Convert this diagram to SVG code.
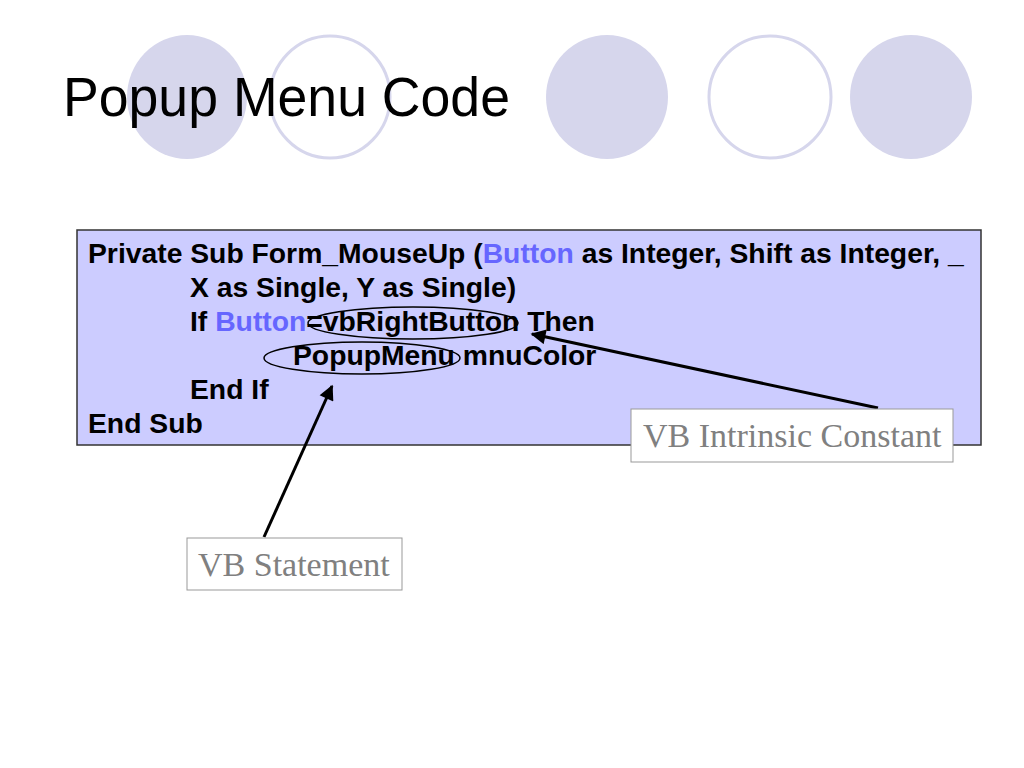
<svg xmlns="http://www.w3.org/2000/svg" width="1024" height="768" viewBox="0 0 1024 768">
<defs>
<style>
.dot{fill:#D6D6EC;stroke:none}
.ring{fill:#FFFFFF;stroke:#D6D6EC;stroke-width:3}
.title{font-family:"Liberation Sans",Arial,sans-serif;font-size:55px;fill:#000}
.code{font-family:"Liberation Sans",Arial,sans-serif;font-size:28.3px;font-weight:bold;fill:#000}
.kw{fill:#6666FF}
.lbl{font-family:"Liberation Serif","Times New Roman",serif;font-size:34px;fill:#808080}
.lblbox{fill:#FFFFFF;stroke:#999999;stroke-width:1}
.oval{fill:none;stroke:#000;stroke-width:1.5}
.conn{stroke:#000;stroke-width:3;fill:none}
</style>
<marker id="ah" viewBox="0 0 10 10" refX="9" refY="5" markerWidth="5.5" markerHeight="5" orient="auto" markerUnits="strokeWidth">
<path d="M0,0 L10,5 L0,10 z" fill="#000"/>
</marker>
</defs>
<rect width="1024" height="768" fill="#FFFFFF"/>
<g id="decor">
<ellipse class="dot" cx="187" cy="97" rx="60" ry="62"/>
<ellipse class="ring" cx="330" cy="97" rx="60" ry="61"/>
<ellipse class="dot" cx="607" cy="97" rx="61" ry="62"/>
<ellipse class="ring" cx="770" cy="97" rx="61" ry="61"/>
<ellipse class="dot" cx="911" cy="97" rx="61" ry="62"/>
</g>
<text class="title" x="63" y="116" textLength="447" lengthAdjust="spacingAndGlyphs">Popup Menu Code</text>
<g id="code-box">
<rect x="77" y="230" width="904" height="215" fill="#CCCCFF" stroke="#333333" stroke-width="1.5"/>
<text class="code" x="88" y="263">Private Sub Form_MouseUp (<tspan class="kw">Button</tspan> as Integer, Shift as Integer, _</text>
<text class="code" x="190" y="297">X as Single, Y as Single)</text>
<text class="code" x="190" y="331">If <tspan class="kw">Button</tspan>=vbRightButton Then</text>
<text class="code" x="293" y="365">PopupMenu mnuColor</text>
<text class="code" x="190" y="399">End If</text>
<text class="code" x="88" y="433">End Sub</text>
</g>
<g id="oval-constant"><ellipse class="oval" cx="413" cy="323" rx="105" ry="16"/></g>
<g id="oval-statement"><ellipse class="oval" cx="362" cy="358" rx="98" ry="16"/></g>
<g id="connectors">
<line class="conn" x1="878" y1="408" x2="532" y2="334" marker-end="url(#ah)"/>
<line class="conn" x1="264" y1="537" x2="332" y2="386" marker-end="url(#ah)"/>
</g>
<g id="label-constant">
<rect class="lblbox" x="631" y="409" width="322" height="53"/>
<text class="lbl" x="643" y="447">VB Intrinsic Constant</text>
</g>
<g id="label-statement">
<rect class="lblbox" x="187" y="538" width="215" height="52"/>
<text class="lbl" x="198" y="576">VB Statement</text>
</g>
</svg>
